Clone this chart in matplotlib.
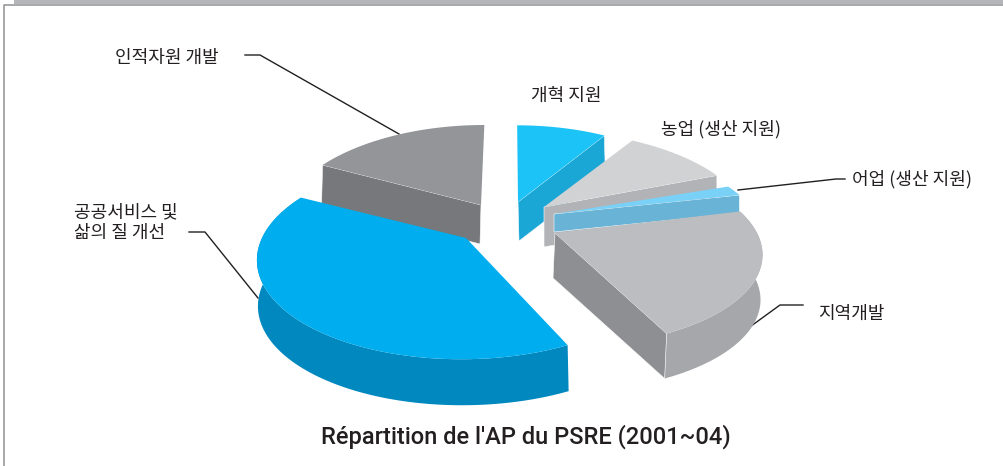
import numpy as np
import matplotlib
matplotlib.use("Agg")
import matplotlib.pyplot as plt
from matplotlib.patches import Polygon

plt.rcParams['font.family'] = ['Noto Sans CJK KR', 'DejaVu Sans']

# clockwise from the top of the pie
categories = ["개혁 지원", "농업 (생산 지원)", "어업 (생산 지원)", "지역개발",
              "공공서비스 및\n삶의 질 개선", "인적자원 개발"]
shares = [9, 10, 2, 22, 39.5, 17.5]
title = "Répartition de l'AP du PSRE (2001~04)"

# apex, radii, skew, depth, colours, which faces show (same order as categories)
PERSP = 0.2
slices = [
    dict(apex=(518, 202), R=190, S=92, q=-1, depth=39, ddx=1, top="#1cc3f6", side="#1aa7d6", radial="end", arc=None),
    dict(apex=(544, 207), R=202, S=92, q=-6, depth=40, ddx=0, top="#d1d2d4", side="#b2b3b6", radial="end", arc=None),
    dict(apex=(554, 214), R=201, S=80, q=0, depth=18, ddx=0, top="#7ad1f8", side="#69b3d6", radial="end", arc=None),
    dict(apex=(555, 233), R=202, S=91, q=-6, depth=45, ddx=-2, top="#bcbdc0", side="#8e8f92", radial="end", arc="#a6a7aa"),
    dict(apex=(466, 238), R=204, S=97, q=4, depth=46, ddx=1, top="#00aeef", side="#0088bf", radial=None, arc="#0088bf"),
    dict(apex=(481, 205), R=196, S=96, q=4, depth=39, ddx=-1, top="#939598", side="#77787b", radial="start", arc=None),
]
draw_order = [0, 5, 1, 2, 3, 4]

label_pos = [(531, 96), (661, 129), (852, 179), (818, 314), (74, 223), (115, 58)]
leaders = [
    None,
    None,
    [(738, 190), (836, 179), (845, 179)],
    [(747, 329), (780, 305), (803, 305)],
    [(189, 232), (205, 232), (258, 298)],
    [(245, 55), (260, 55), (399, 134)],
]


def rim(s, t1, t2):
    t = np.radians(np.linspace(t1, t2, 80))
    w = 1 / (1 + PERSP * np.cos(t))
    x = s["apex"][0] + (s["R"] * np.sin(t) + s["q"] * np.cos(t)) * w
    y = s["apex"][1] - s["S"] * np.cos(t) * w
    return np.column_stack([x, y])


fig = plt.figure(figsize=(10.04, 4.66), dpi=100)
ax = fig.add_axes([0, 0, 1, 1])
ax.set_xlim(0, 1004)
ax.set_ylim(466, 0)
ax.axis("off")

# frame
ax.fill_between([14, 1004], 0, 4, color="#b5b6b9", lw=0)
ax.plot([4.5, 4.5, 1004], [466, 5, 5], color="#98999c", lw=1.2)

edges = np.cumsum([0] + shares) / sum(shares) * 360
for z, i in enumerate(draw_order):
    s = slices[i]
    pts = rim(s, edges[i], edges[i + 1])
    apex = np.array(s["apex"], dtype=float)
    off = np.array([s["ddx"], s["depth"]], dtype=float)

    if s["arc"]:
        ax.add_patch(Polygon(np.vstack([pts, (pts + off)[::-1]]), fc=s["arc"], ec="none", zorder=2 + z))
    if s["radial"]:
        p = pts[-1] if s["radial"] == "end" else pts[0]
        ax.add_patch(Polygon([apex, p, p + off, apex + off], fc=s["side"], ec="white", lw=0.4, zorder=2 + z))
    ax.add_patch(Polygon(np.vstack([apex, pts]), fc=s["top"], ec="none", zorder=2 + z))

for name, (x, y), line in zip(categories, label_pos, leaders):
    ax.text(x, y, name, fontsize=13, color="#231f20", ha="left", va="center", linespacing=1.2, zorder=20)
    if line:
        lx, ly = zip(*line)
        ax.plot(lx, ly, color="#231f20", lw=1, zorder=1)

ax.text(526, 437, title, fontsize=17, family=["Roboto", "DejaVu Sans"], fontweight="medium", color="#231f20",
        ha="center", va="center", zorder=20)

fig.savefig("out.png", dpi=100)
